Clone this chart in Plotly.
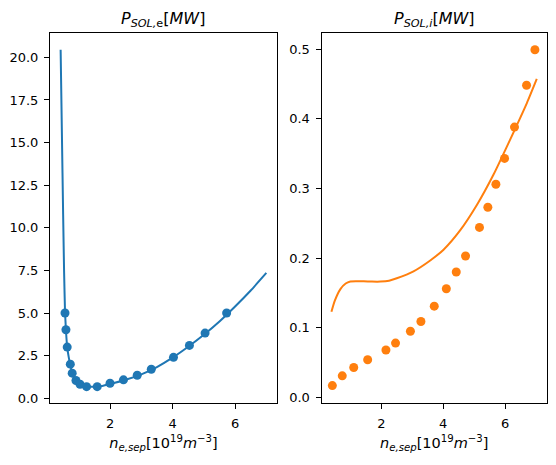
import plotly.graph_objects as go

# ---- data ----
e_pts_x = [0.56, 0.59, 0.63, 0.73, 0.79, 0.91, 1.04, 1.25, 1.59, 2.0, 2.43, 2.87, 3.32, 4.03, 4.54, 5.04, 5.73]
e_pts_y = [5.0, 4.02, 3.0, 2.0, 1.47, 1.04, 0.82, 0.68, 0.68, 0.88, 1.08, 1.35, 1.7, 2.4, 3.1, 3.82, 5.0]

e_fit_x = [0.42, 0.46, 0.50, 0.53, 0.56, 0.59, 0.63, 0.68, 0.73, 0.80, 0.90, 1.0, 1.15, 1.3, 1.5,
           1.75, 2.0, 2.5, 3.0, 3.5, 4.0, 4.5, 5.0, 5.5, 6.0, 6.5, 7.0]
e_fit_y = [20.45, 15.6, 10.8, 7.5, 5.1, 4.0, 3.0, 2.4, 1.95, 1.45, 1.05, 0.86, 0.74, 0.69, 0.67,
           0.72, 0.83, 1.08, 1.40, 1.83, 2.38, 3.02, 3.72, 4.5, 5.38, 6.32, 7.35]

i_pts_x = [0.42, 0.74, 1.11, 1.56, 2.15, 2.46, 2.94, 3.28, 3.71, 4.1, 4.42, 4.72, 5.17, 5.44, 5.7, 5.98, 6.3, 6.69, 6.96]
i_pts_y = [0.017, 0.031, 0.043, 0.054, 0.068, 0.078, 0.095, 0.109, 0.131, 0.156, 0.180, 0.203, 0.244, 0.273, 0.306, 0.343, 0.388, 0.448, 0.499]

i_fit_x = [0.39, 0.5, 0.68, 0.85, 1.0, 1.2, 1.43, 1.7, 1.97, 2.25, 2.5, 3.04, 3.58, 4.01, 4.55,
           5.09, 5.62, 6.16, 6.7, 7.02]
i_fit_y = [0.123, 0.139, 0.1555, 0.1635, 0.1664, 0.1668, 0.1666, 0.1662, 0.1662, 0.1675, 0.171,
           0.181, 0.1966, 0.212, 0.240, 0.2765, 0.3195, 0.370, 0.4224, 0.457]

xlabel = "<i>n</i><sub><i>e,sep</i></sub>[10<sup>19</sup><i>m</i><sup>−3</sup>]"
title_e = "<i>P</i><sub><i>SOL,</i>e</sub>[<i>MW</i>]"
title_i = "<i>P</i><sub><i>SOL,i</i></sub>[<i>MW</i>]"

blue = "#1f77b4"
orange = "#ff7f0e"

fig = go.Figure()
fig.add_trace(go.Scatter(x=e_fit_x, y=e_fit_y, mode="lines", line=dict(color=blue, width=2, shape="spline", smoothing=0.4),
                         xaxis="x", yaxis="y", showlegend=False))
fig.add_trace(go.Scatter(x=e_pts_x, y=e_pts_y, mode="markers", marker=dict(color=blue, size=9),
                         xaxis="x", yaxis="y", showlegend=False))
fig.add_trace(go.Scatter(x=i_fit_x, y=i_fit_y, mode="lines", line=dict(color=orange, width=2, shape="spline", smoothing=0.6),
                         xaxis="x2", yaxis="y2", showlegend=False))
fig.add_trace(go.Scatter(x=i_pts_x, y=i_pts_y, mode="markers", marker=dict(color=orange, size=9),
                         xaxis="x2", yaxis="y2", showlegend=False))

axis_common = dict(showline=True, linecolor="black", linewidth=1, mirror=True, ticks="outside",
                   ticklen=5, tickcolor="black", tickwidth=1, showgrid=False, zeroline=False,
                   ticklabelstandoff=3,
                   tickfont=dict(family="DejaVu Sans", size=13, color="black"))

fig.update_layout(
    width=556, height=465,
    margin=dict(l=50, r=9, t=33, b=62),
    paper_bgcolor="white", plot_bgcolor="white",
    font=dict(family="DejaVu Sans", color="black"),
    xaxis=dict(domain=[0, 0.4567], range=[0.08, 7.34], dtick=2, tick0=0, anchor="y",
               title=dict(text=xlabel, font=dict(size=14.5), standoff=8), **axis_common),
    yaxis=dict(range=[-0.28, 21.43], dtick=2.5, tick0=0, tickformat=".1f", anchor="x", **axis_common),
    xaxis2=dict(domain=[0.5463, 1], range=[0.07, 7.35], dtick=2, tick0=0, anchor="y2",
                title=dict(text=xlabel, font=dict(size=14.5), standoff=8), **axis_common),
    yaxis2=dict(range=[-0.008, 0.523], dtick=0.1, tick0=0, tickformat=".1f", anchor="x2", **axis_common),
    annotations=[
        dict(text=title_e, x=0.4567 / 2, y=1, xref="paper", yref="paper", xanchor="center", yanchor="bottom",
             yshift=1, showarrow=False, font=dict(size=16, family="DejaVu Sans", color="black")),
        dict(text=title_i, x=(0.5463 + 1) / 2, y=1, xref="paper", yref="paper", xanchor="center", yanchor="bottom",
             yshift=1, showarrow=False, font=dict(size=16, family="DejaVu Sans", color="black")),
    ],
)

fig.write_html("out.html", config={"displayModeBar": False},
               post_script="document.body.style.margin='0px';document.body.style.overflow='hidden';")
